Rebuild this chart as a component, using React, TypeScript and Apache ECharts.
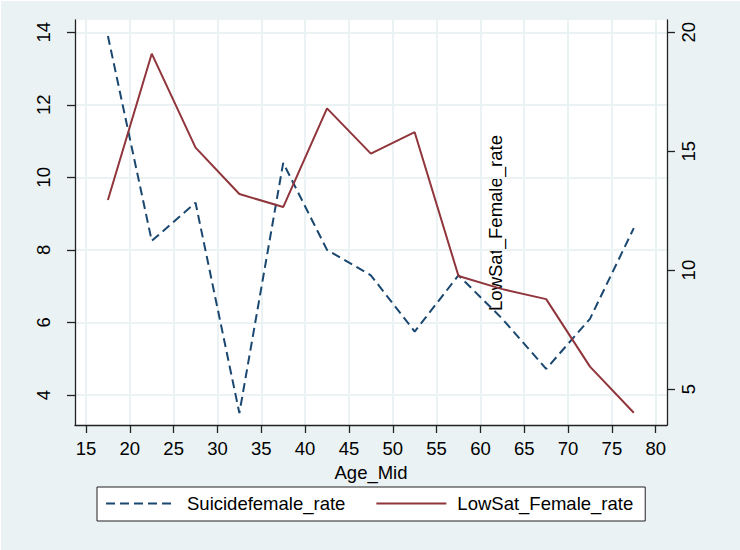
import React, { useEffect, useRef } from "react";
import * as echarts from "echarts";

const ageMid = [17.5, 22.5, 27.5, 32.5, 37.5, 42.5, 47.5, 52.5, 57.5, 62.5, 67.5, 72.5, 77.5];
const suicideFemaleRate = [13.9, 8.25, 9.3, 3.5, 10.4, 8.0, 7.3, 5.75, 7.3, 6.1, 4.72, 6.1, 8.6];
const lowSatFemaleRate = [12.95, 19.1, 15.15, 13.2, 12.65, 16.8, 14.9, 15.8, 9.75, 9.2, 8.78, 5.94, 4.0];

const xTicks = [15, 20, 25, 30, 35, 40, 45, 50, 55, 60, 65, 70, 75, 80];
const leftTicks = [4, 6, 8, 10, 12, 14];
const rightTicks = [5, 10, 15, 20];

const seriesNames = ["Suicidefemale_rate", "LowSat_Female_rate"];
const xTitle = "Age_Mid";
const rightTitle = "LowSat_Female_rate";

export default function App() {
  const ref = useRef<HTMLDivElement>(null);
  useEffect(() => {
    document.body.style.margin = "0";
    const chart = echarts.init(ref.current!, null, { renderer: "svg" });
    const font = "'Liberation Sans', Arial, sans-serif";
    const fs = 18.5;
    const axisColor = "#222";
    const grid = "#EAF2F3";
    chart.setOption({
      animation: false,
      backgroundColor: "#EAF2F3",
      textStyle: { fontFamily: font },
      grid: {
        left: 75,
        right: 73,
        top: 20,
        bottom: 125,
        show: true,
        backgroundColor: "#ffffff",
        borderWidth: 0,
        containLabel: false,
        outerBoundsMode: "none",
      },
      legend: {
        left: 97,
        top: 487,
        orient: "horizontal",
        itemWidth: 70,
        itemHeight: 14,
        itemGap: 30,
        padding: [7, 12, 8, 8],
        backgroundColor: "#ffffff",
        borderColor: axisColor,
        borderWidth: 1,
        borderRadius: 0,
        itemStyle: { opacity: 0 },
        textStyle: { fontSize: fs, color: "#000", fontFamily: font, padding: [0, 0, 0, 6] },
        data: seriesNames,
      },
      xAxis: {
        type: "value",
        min: 13.745,
        max: 81.289,
        splitNumber: 13,
        minInterval: 5,
        maxInterval: 5,
        name: xTitle,
        nameLocation: "middle",
        nameGap: 28,
        nameTextStyle: { fontSize: fs, color: "#000", fontFamily: font },
        axisLine: { show: true, onZero: false, lineStyle: { color: axisColor, width: 1.3 } },
        axisTick: { show: true, length: 8, customValues: xTicks, lineStyle: { color: axisColor, width: 1.3 } },
        axisLabel: { customValues: xTicks, margin: 14, fontSize: fs, color: "#000", fontFamily: font },
        splitLine: { show: true, lineStyle: { color: grid, width: 2 } },
      },
      yAxis: [
        {
          type: "value",
          position: "left",
          min: 3.173,
          max: 14.339,
          minInterval: 2,
          maxInterval: 2,
          axisLine: { show: true, onZero: false, lineStyle: { color: axisColor, width: 1.3 } },
          axisTick: { show: true, length: 8, customValues: leftTicks, lineStyle: { color: axisColor, width: 1.3 } },
          axisLabel: { customValues: leftTicks, rotate: 90, margin: 22, fontSize: fs, color: "#000", fontFamily: font },
          splitLine: { show: true, lineStyle: { color: grid, width: 2 } },
        },
        {
          type: "value",
          position: "right",
          min: 3.486,
          max: 20.517,
          minInterval: 5,
          maxInterval: 5,
          axisLine: { show: true, onZero: false, lineStyle: { color: axisColor, width: 1.3 } },
          axisTick: { show: true, length: 8, customValues: rightTicks, lineStyle: { color: axisColor, width: 1.3 } },
          axisLabel: { customValues: rightTicks, rotate: 90, margin: 12, fontSize: fs, color: "#000", fontFamily: font },
          splitLine: { show: false },
        },
      ],
      series: [
        {
          type: "line",
          name: seriesNames[0],
          yAxisIndex: 0,
          data: ageMid.map((x, i) => [x, suicideFemaleRate[i]]),
          symbol: "none",
          showSymbol: false,
          lineStyle: { color: "#1A476F", width: 2, type: [9, 5] },
          itemStyle: { color: "#1A476F" },
        },
        {
          type: "line",
          name: seriesNames[1],
          yAxisIndex: 1,
          data: ageMid.map((x, i) => [x, lowSatFemaleRate[i]]),
          symbol: "none",
          showSymbol: false,
          lineStyle: { color: "#90353B", width: 2 },
          itemStyle: { color: "#90353B" },
        },
      ],
      graphic: [
        {
          type: "polyline",
          silent: true,
          shape: { points: [[0.5, 550], [0.5, 0.5], [740, 0.5]] },
          style: { stroke: "#ffffff", lineWidth: 1, fill: "none" },
        },
        {
          type: "text",
          x: 495.5,
          y: 223,
          rotation: Math.PI / 2,
          silent: true,
          style: {
            text: rightTitle,
            fontSize: fs,
            fontFamily: font,
            fill: "#000",
            align: "center",
            verticalAlign: "middle",
            textAlign: "center",
            textVerticalAlign: "middle",
          },
        },
      ],
    });
    return () => chart.dispose();
  }, []);
  return <div ref={ref} style={{ width: 740, height: 550 }} />;
}
